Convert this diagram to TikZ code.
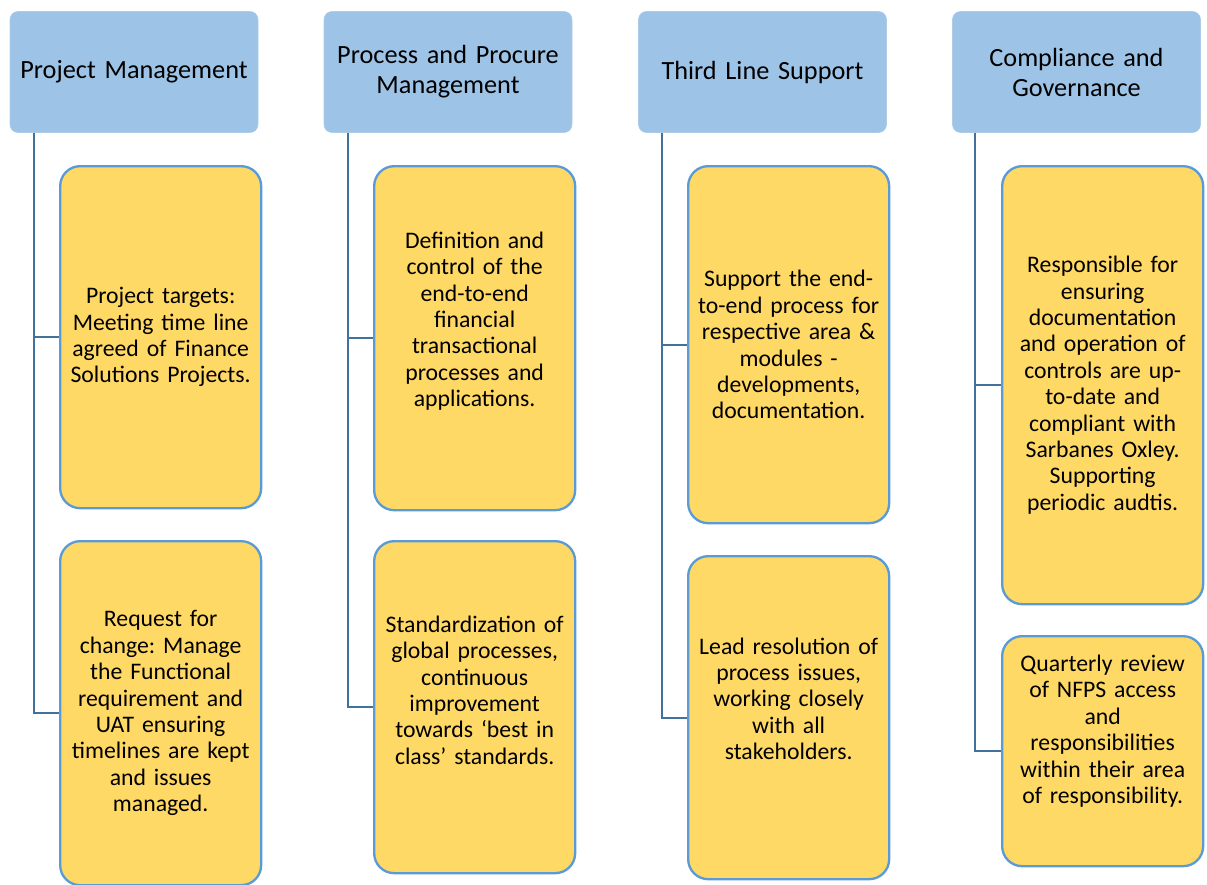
\documentclass[tikz,border=0pt]{standalone}
\usepackage{fontspec}
\setmainfont{Carlito}
\frenchspacing
\usetikzlibrary{positioning,calc}
\definecolor{headblue}{HTML}{9DC3E6}
\definecolor{taskgold}{HTML}{FFD966}
\definecolor{taskedge}{HTML}{5B9BD5}
\definecolor{linkblue}{HTML}{41719C}
\newcommand\liftup[1]{\par\rule{0pt}{#1}}
\tikzset{
headbox/.style={
  rectangle,
  rounded corners=6pt,
  fill=headblue,
  draw=headblue!85!white,
  minimum width=186pt,
  minimum height=90.75pt,
  text width=180pt,
  inner sep=0pt,
  align=center,
  font=\fontsize{19.7}{22.5}\selectfont
  },
taskbox/.style={
  rectangle,
  rounded corners=15pt,
  fill=taskgold,
  draw=taskedge,
  line width=1.75pt,
  minimum width=150.75pt,
  text width=144pt,
  inner sep=0pt,
  align=center,
  anchor=north west,
  font=\fontsize{17.8}{19.8}\selectfont
  },
link/.style={draw=linkblue, line width=1.6pt}
}

\begin{document}
\begin{tikzpicture}[x=0.75pt,y=-0.75pt]
  \useasboundingbox (0,0) rectangle (1207,885);

  \node[headbox] (pm) at (134,72) {Project Management};
  \node[headbox] (ppm) at (448,72) {Process and Procure\\Management};
  \node[headbox] (tls) at (762.5,72) {Third Line Support};
  \node[headbox] (cg) at (1076.5,72) {Compliance and\\Governance};

  \node[taskbox, minimum height=256.5pt] (pm-a) at (59,165)
    {Project targets:\\Meeting time line\\agreed of Finance\\Solutions Projects.};
  \node[taskbox, minimum height=258pt] (pm-b) at (59,540)
    {Request for\\change: Manage\\the Functional\\requirement and\\UAT ensuring\\timelines are kept\\and issues\\managed.};

  \node[taskbox, minimum height=258pt] (ppm-a) at (373,165)
    {Definition and\\control of the\\end-to-end\\financial\\transactional\\processes and\\applications.\liftup{24.5pt}};
  \node[taskbox, minimum height=249pt] (ppm-b) at (373,540)
    {Standardization of\\global processes,\\continuous\\improvement\\towards `best in\\class' standards.\liftup{24.5pt}};

  \node[taskbox, minimum height=267.75pt] (tls-a) at (687,165)
    {Support the end-\\to-end process for\\respective area \&\\modules -\\developments,\\documentation.};
  \node[taskbox, minimum height=242.25pt] (tls-b) at (687,555)
    {Lead resolution of\\process issues,\\working closely\\with all\\stakeholders.\liftup{27.5pt}};

  \node[taskbox, minimum height=328.5pt] (cg-a) at (1001,165)
    {Responsible for\\ensuring\\documentation\\and operation of\\controls are up-\\to-date and\\compliant with\\Sarbanes Oxley.\\Supporting\\periodic audtis.};
  \node[taskbox, minimum height=172.5pt] (cg-b) at (1001,635)
    {Quarterly review\\of NFPS access\\and\\responsibilities\\within their area\\of responsibility.\liftup{29pt}};

  \draw[link] ($(pm.south west)+(24,0)$) |- (pm-a.west);
  \draw[link] ($(pm.south west)+(24,0)$) |- (pm-b.west);
  \draw[link] ($(ppm.south west)+(24,0)$) |- (ppm-a.west);
  \draw[link] ($(ppm.south west)+(24,0)$) |- (ppm-b.west);
  \draw[link] ($(tls.south west)+(24,0)$) |- (tls-a.west);
  \draw[link] ($(tls.south west)+(24,0)$) |- (tls-b.west);
  \draw[link] ($(cg.south west)+(23,0)$) |- (cg-a.west);
  \draw[link] ($(cg.south west)+(23,0)$) |- (cg-b.west);

\end{tikzpicture}
\end{document}
